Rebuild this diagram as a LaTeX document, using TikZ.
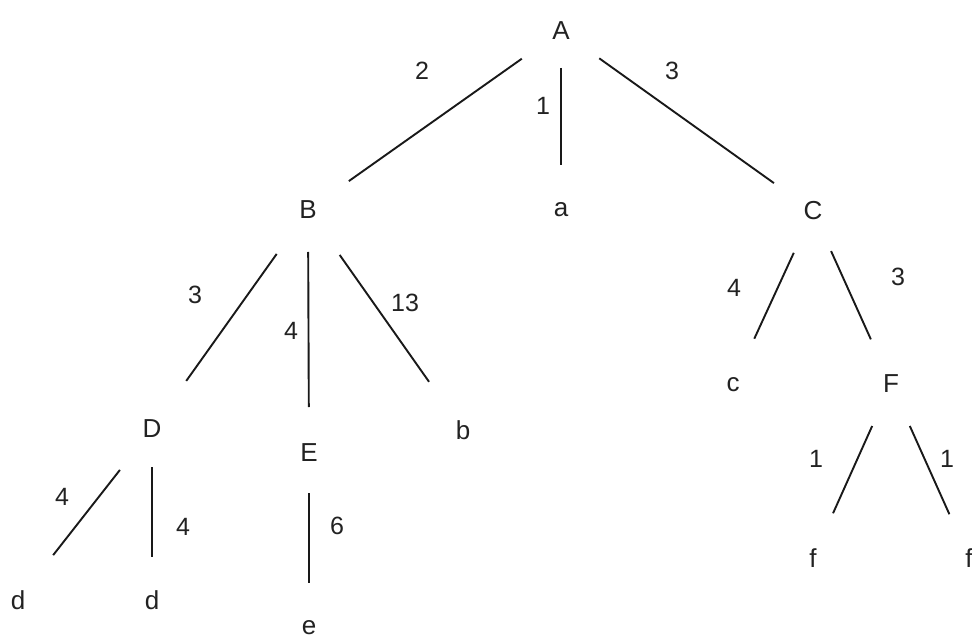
\documentclass[tikz,border=0pt]{standalone}
\usepackage{fontspec}
\setmainfont{Liberation Sans}
\definecolor{ink}{HTML}{222222}
\begin{document}
\begin{tikzpicture}[x=1pt,y=-1pt,
  vtx/.style={inner sep=0pt,text=ink,font=\fontsize{26}{30}\selectfont},
  wt/.style={inner sep=0pt,text=ink,font=\fontsize{25}{30}\selectfont},
  edge/.style={draw=black!90,line width=1.9pt}]
\useasboundingbox[fill=white] (0,0) rectangle (972,639);
% vertices
\node[vtx] (A)  at (561,31)  {A};
\node[vtx] (B)  at (308,210) {B};
\node[vtx] (a)  at (561,210) {a};
\node[vtx] (C)  at (813,211) {C};
\node[vtx] (D)  at (152,429) {D};
\node[vtx] (E)  at (309,453) {E};
\node[vtx] (b)  at (463,430) {b};
\node[vtx] (c)  at (733,385) {c};
\node[vtx] (F)  at (891,384) {F};
\node[vtx] (d1) at (18,600)  {d};
\node[vtx] (d2) at (152,600) {d};
\node[vtx] (e)  at (309,628) {e};
\node[vtx] (f1) at (813,558) {f};
\node[vtx] (f2) at (969,558) {f};
% edges
\draw[edge,shorten <=48pt,shorten >=50pt] (A.center) -- (B.center);
\draw[edge,shorten <=37pt,shorten >=45pt] (A.center) -- (a.center);
\draw[edge,shorten <=47pt,shorten >=48pt] (A.center) -- (C.center);
\draw[edge,shorten <=54pt,shorten >=59pt] (B.center) -- (D.center);
\draw[edge,shorten <=42pt,shorten >=46pt] (B.center) -- (E.center);
\draw[edge,shorten <=55pt,shorten >=59pt] (B.center) -- (b.center);
\draw[edge,shorten <=46pt,shorten >=51pt] (C.center) -- (c.center);
\draw[edge,shorten <=44pt,shorten >=49pt] (C.center) -- (F.center);
\draw[edge,shorten <=52pt,shorten >=57pt] (D.center) -- (d1.center);
\draw[edge,shorten <=38pt,shorten >=43pt] (D.center) -- (d2.center);
\draw[edge,shorten <=40pt,shorten >=45pt] (E.center) -- (e.center);
\draw[edge,shorten <=46pt,shorten >=49pt] (F.center) -- (f1.center);
\draw[edge,shorten <=46pt,shorten >=48pt] (F.center) -- (f2.center);
% weights
\node[wt] (wAB) at (422,71)  {2};
\node[wt] (wAa) at (543,106) {1};
\node[wt] (wAC) at (672,71)  {3};
\node[wt] (wBD) at (195,295) {3};
\node[wt] (wBE) at (291,331) {4};
\node[wt] (wBb) at (405,303) {13};
\node[wt] (wCc) at (734,288) {4};
\node[wt] (wCF) at (898,277) {3};
\node[wt] (wDd1) at (62,497) {4};
\node[wt] (wDd2) at (183,527) {4};
\node[wt] (wEe) at (337,526) {6};
\node[wt] (wFf1) at (816,459) {1};
\node[wt] (wFf2) at (947,459) {1};
\end{tikzpicture}
\end{document}
